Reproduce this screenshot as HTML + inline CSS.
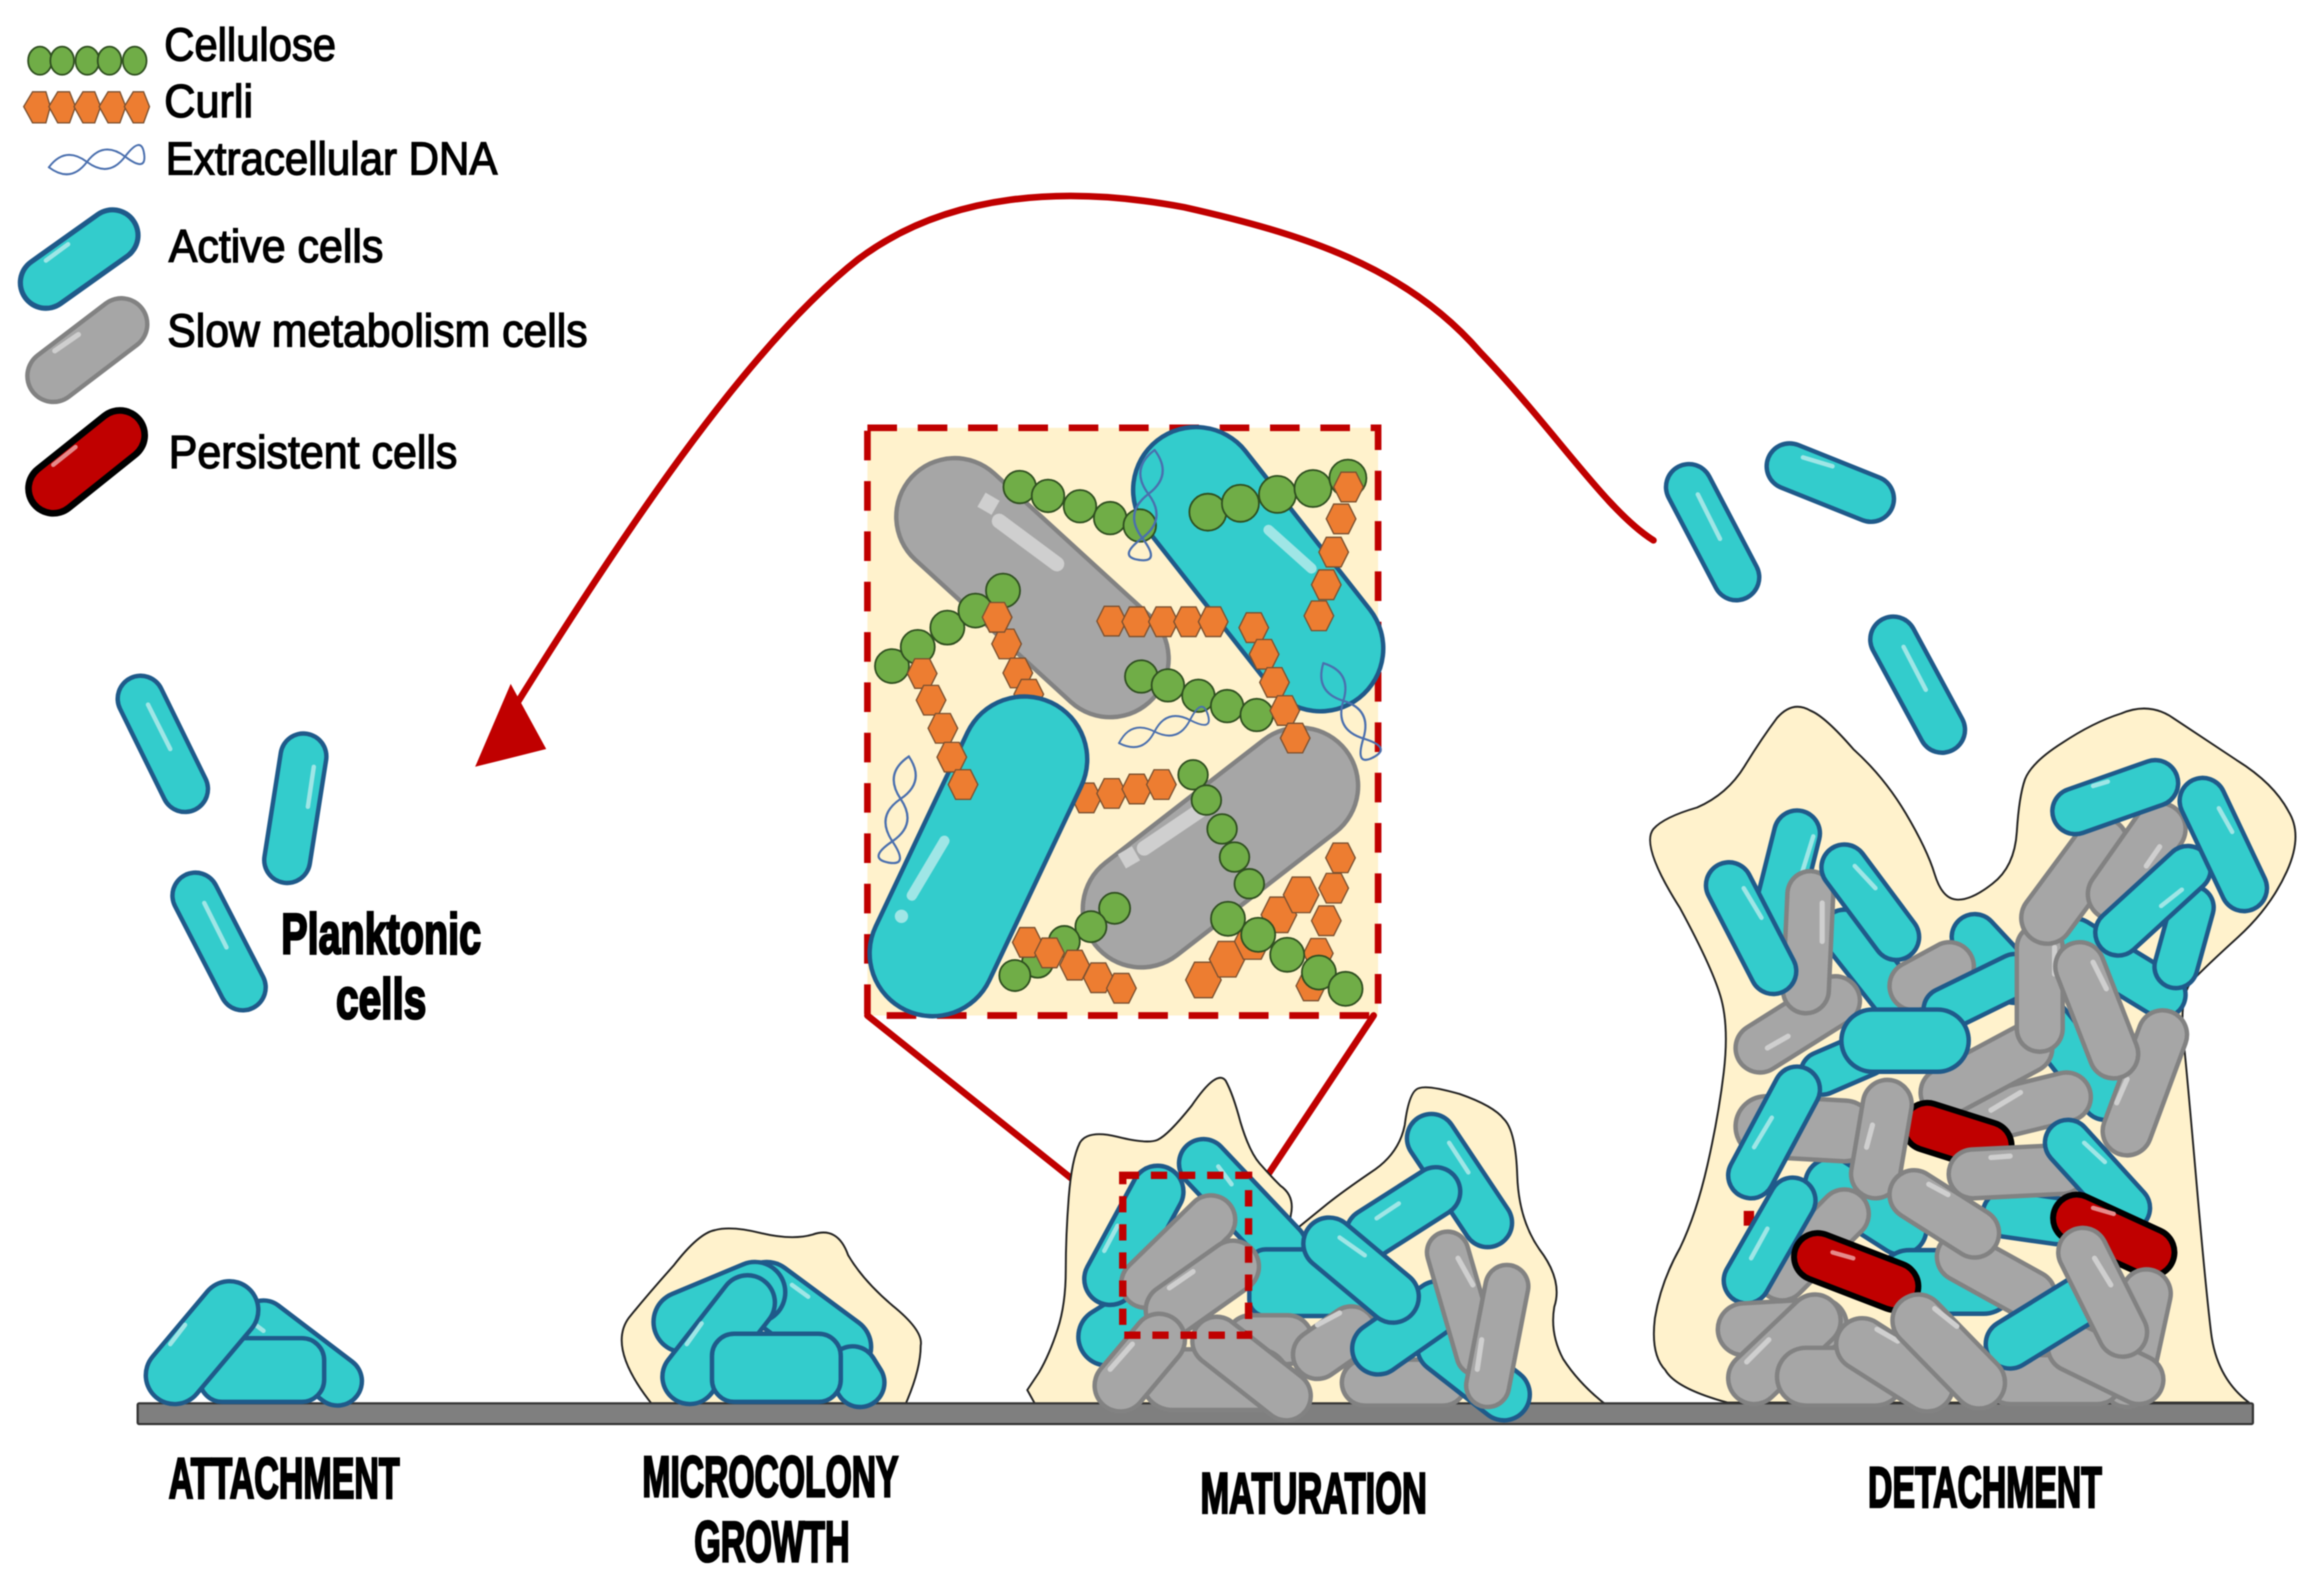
<!DOCTYPE html>
<html><head><meta charset="utf-8"><title>Biofilm formation stages</title>
<style>
html,body{margin:0;padding:0;background:#fff}
svg{display:block;filter:blur(.6px)}
path{fill:none;stroke-linecap:round}
.to{stroke:#1f5a8a}.tf{stroke:#33cccc}
.go{stroke:#828282}.gf{stroke:#a6a6a6}
.ro{stroke:#000}.rf{stroke:#c00000}
.h{stroke:#9fe6e6;stroke-width:3}
.gh{stroke:#cfcfcf;stroke-width:3.500}
.rh{stroke:#e58a8a;stroke-width:3}
.tr{fill:#33cccc;stroke:#1f5a8a;stroke-width:3}
.blob{fill:#fff2cc;stroke:#222;stroke-width:1.3;stroke-linejoin:round}
.c{fill:#70ad47;stroke:#2f4f20;stroke-width:1.2}
.x{fill:#ed7d31;stroke:#7a5030;stroke-width:.9}
.dna{stroke:#4a6fae;stroke-width:2}
.leg{font:31px "Liberation Sans",sans-serif;fill:#000;stroke:#000;stroke-width:.9}
.lab{font:bold 39px "Liberation Sans",sans-serif;fill:#000;stroke:#000;stroke-width:1.6}
</style></head><body>
<svg xmlns="http://www.w3.org/2000/svg" width="2321" height="1578" viewBox="0 0 1568 1066" preserveAspectRatio="none">
<defs>
<polygon id="hx" class="x" points="-10,0 -5,-10 5,-10 10,0 5,10 -5,10"/>
<polygon id="hy" class="x" points="-12,0 -6,-12 6,-12 12,0 6,12 -6,12"/>
<g id="dna"><path class="dna" d="M0 0Q20 -20 40 0T80 0T100 0"/><path class="dna" d="M0 0Q20 20 40 0T80 0T100 0"/></g>
</defs>
<rect width="1568" height="1066" fill="#fff"/>

<!-- legend -->
<g class="c"><ellipse cx="27" cy="41" rx="8" ry="9.500"/><ellipse cx="42" cy="41" rx="8" ry="9.500"/><ellipse cx="59" cy="41" rx="8" ry="9.500"/><ellipse cx="74" cy="41" rx="8" ry="9.500"/><ellipse cx="91" cy="41" rx="8" ry="9.500"/></g>
<g class="x"><polygon points="16,72 22,62 31,62 34,72 31,83 22,83"/><polygon points="33,72 39,62 47,62 51,72 47,83 39,83"/><polygon points="50,72 56,62 64,62 68,72 64,83 56,83"/><polygon points="67,72 73,62 81,62 85,72 81,83 73,83"/><polygon points="84,72 90,62 97,62 101,72 97,83 90,83"/></g>
<use href="#dna" transform="translate(33 113) rotate(-8) scale(.65)"/>
<path class="to" stroke-width="38" d="M31 191 76 159"/><path class="tf" stroke-width="31" d="M31 191 76 159"/>
<path class="h" d="M31 176 46 165"/>
<path class="go" stroke-width="38" d="M36 254 82 219"/><path class="gf" stroke-width="32" d="M36 254 82 219"/>
<path class="gh" d="M37 237 53 226"/>
<path class="ro" stroke-width="38" d="M36 330 81 294"/><path class="rf" stroke-width="29" d="M36 330 81 294"/>
<path class="rh" d="M36 314 51 302"/>
<text class="leg" x="111" y="41" textLength="116" lengthAdjust="spacingAndGlyphs">Cellulose</text>
<text class="leg" x="111" y="79" textLength="60" lengthAdjust="spacingAndGlyphs">Curli</text>
<text class="leg" x="112" y="118" textLength="224" lengthAdjust="spacingAndGlyphs">Extracellular DNA</text>
<text class="leg" x="114" y="177" textLength="145" lengthAdjust="spacingAndGlyphs">Active cells</text>
<text class="leg" x="113" y="234" textLength="284" lengthAdjust="spacingAndGlyphs">Slow metabolism cells</text>
<text class="leg" x="114" y="316" textLength="195" lengthAdjust="spacingAndGlyphs">Persistent cells</text>

<!-- return arrow -->
<path d="M1117 365C1085 345 1050 290 1000 238C950 180 880 158 800 140C720 125 640 130 580 175C510 230 430 345 345 482" stroke="#c00000" stroke-width="4.500"/>
<polygon points="321,518 345,462 369,506" fill="#c00000"/>

<!-- planktonic -->
<path class="to" stroke-width="34" d="M95 472 125 533"/><path class="tf" stroke-width="28" d="M95 472 125 533"/><path class="h" d="M100 476 115 506"/>
<path class="to" stroke-width="34" d="M205 511 194 581"/><path class="tf" stroke-width="28" d="M205 511 194 581"/><path class="h" d="M212 518 208 545"/>
<path class="to" stroke-width="34" d="M132 605 164 667"/><path class="tf" stroke-width="28" d="M132 605 164 667"/><path class="h" d="M138 610 153 640"/>
<text class="lab" x="190" y="644" textLength="135" lengthAdjust="spacingAndGlyphs">Planktonic</text>
<text class="lab" x="227" y="688" textLength="61" lengthAdjust="spacingAndGlyphs">cells</text>

<!-- detached -->
<path class="to" stroke-width="34" d="M1141 329 1173 390"/><path class="tf" stroke-width="28" d="M1141 329 1173 390"/><path class="h" d="M1147 334 1162 364"/>
<path class="to" stroke-width="34" d="M1209 315 1264 337"/><path class="tf" stroke-width="28" d="M1209 315 1264 337"/><path class="h" d="M1218 309 1238 315"/>
<path class="to" stroke-width="34" d="M1279 432 1312 493"/><path class="tf" stroke-width="28" d="M1279 432 1312 493"/><path class="h" d="M1286 437 1301 466"/>

<!-- inset -->
<rect x="586" y="289" width="345" height="397" fill="#fff2cc"/>
<rect x="586" y="289" width="345" height="397" fill="none" stroke="#c00000" stroke-width="4.500" stroke-dasharray="20 14"/>
<path d="M586 686 755 821M928 686 849 805" stroke="#c00000" stroke-width="4.500"/>
<path class="go" stroke-width="82" d="M645 349 750 445"/><path class="gf" stroke-width="76" d="M645 349 750 445"/>
<path d="M675 352 714 381" stroke="#cfcfcf" stroke-width="10" stroke-linecap="butt"/>
<rect x="662" y="335" width="11" height="11" fill="#cfcfcf" transform="rotate(30 668 341)"/>
<path class="go" stroke-width="82" d="M878 531 771 614"/><path class="gf" stroke-width="76" d="M878 531 771 614"/>
<path d="M773 573 810 548" stroke="#cfcfcf" stroke-width="10" stroke-linecap="butt"/>
<rect x="757" y="574" width="11" height="11" fill="#cfcfcf" transform="rotate(-30 762 579)"/>
<path class="to" stroke-width="88" d="M808 331 892 438"/><path class="tf" stroke-width="82" d="M808 331 892 438"/>
<path class="h" style="stroke-width:7" d="M857 358 886 384"/>
<use href="#hx" x="673.600" y="417"/><use href="#hx" x="680" y="435"/><use href="#hx" x="687.600" y="454.600"/><use href="#hx" x="695" y="469"/>
<use href="#hx" x="734" y="539"/><use href="#hx" x="751" y="536"/><use href="#hx" x="768" y="533"/><use href="#hx" x="784.600" y="530"/>
<path class="to" stroke-width="88" d="M692 513 630 644"/><path class="tf" stroke-width="82" d="M692 513 630 644"/>
<path class="h" style="stroke-width:7" d="M616 605 638 568"/><circle cx="609" cy="619" r="4.500" fill="#9fe6e6"/>
<g class="c">
<circle cx="688.900" cy="329" r="11"/><circle cx="708" cy="335" r="11"/><circle cx="729.600" cy="342" r="11"/><circle cx="750" cy="350" r="11"/><circle cx="770" cy="355" r="11"/>
<circle cx="816" cy="346" r="12.500"/><circle cx="838" cy="340" r="12.500"/><circle cx="863" cy="334" r="12.500"/><circle cx="887" cy="330" r="12.500"/><circle cx="910.600" cy="323" r="12.500"/>
<circle cx="602.600" cy="450" r="11.500"/><circle cx="620" cy="437" r="11.500"/><circle cx="640" cy="424" r="11.500"/><circle cx="659" cy="412.500" r="11.500"/><circle cx="677.600" cy="399" r="11.500"/>
<circle cx="771" cy="457" r="11"/><circle cx="789" cy="463" r="11"/><circle cx="809.600" cy="470" r="11"/><circle cx="829" cy="477" r="11"/><circle cx="849" cy="483" r="11"/>
</g>
<use href="#hx" x="911" y="329"/><use href="#hx" x="906" y="350.500"/><use href="#hx" x="901" y="373"/><use href="#hx" x="896" y="395"/><use href="#hx" x="891" y="416"/>
<use href="#hx" x="623" y="455"/><use href="#hx" x="629" y="473"/><use href="#hx" x="637" y="492"/><use href="#hx" x="643" y="511.500"/><use href="#hx" x="650.600" y="530"/>
<use href="#hx" x="673.600" y="417"/>
<use href="#hx" x="751" y="419.600"/><use href="#hx" x="768" y="420"/><use href="#hx" x="786" y="420"/><use href="#hx" x="803" y="420"/><use href="#hx" x="819.600" y="420"/>
<use href="#hx" x="847" y="424"/><use href="#hx" x="854" y="442"/><use href="#hx" x="861" y="461"/><use href="#hx" x="868" y="480"/><use href="#hx" x="875" y="498.600"/>
<g class="c"><circle cx="806" cy="523.400" r="10"/><circle cx="815" cy="540.500" r="10"/><circle cx="825.600" cy="560" r="10"/><circle cx="834" cy="579" r="10"/><circle cx="844" cy="597" r="10"/>
<circle cx="753" cy="613.600" r="10.500"/><circle cx="737" cy="626" r="10.500"/><circle cx="719" cy="636" r="10.500"/><circle cx="701" cy="650" r="10.500"/><circle cx="685.600" cy="659" r="10.500"/></g>
<use href="#hx" x="694" y="636.600"/><use href="#hx" x="709" y="643.700"/><use href="#hx" x="726" y="652"/><use href="#hx" x="742" y="660.500"/><use href="#hx" x="757.600" y="667.600"/>
<use href="#hx" x="905.600" y="579.500"/><use href="#hx" x="901" y="600"/><use href="#hx" x="896" y="622"/><use href="#hx" x="890.600" y="644"/><use href="#hx" x="885.600" y="666"/>
<use href="#hy" x="813" y="662"/><use href="#hy" x="829" y="648"/><use href="#hy" x="846" y="636"/><use href="#hy" x="864" y="618"/><use href="#hy" x="879" y="604.500"/>
<g class="c"><circle cx="829.600" cy="620.700" r="11.500"/><circle cx="850" cy="631.500" r="11.500"/><circle cx="869.600" cy="645" r="11.500"/><circle cx="891" cy="657" r="11.500"/><circle cx="909" cy="668" r="11.500"/></g>
<use href="#dna" transform="translate(756 502) rotate(-18) scale(.63)"/>
<use href="#dna" transform="translate(780 304) rotate(98) scale(.75)"/>
<use href="#dna" transform="translate(614 511) rotate(101) scale(.73)"/>
<use href="#dna" transform="translate(894 448) rotate(62) scale(.72)"/>

<!-- blobs -->
<path class="blob" d="M440 948Q410 910 425 890Q438 874 455 855Q472 833 483 831Q494 828 514 833Q535 838 549 834Q566 828 573 848Q583 865 603 882Q624 899 622 909Q622 925 612 948Z"/>
<path class="blob" d="M699 948L694 939 702 927Q709 915 714.500 898Q720 881 720 858Q720 835 722 809Q724 783 729.500 772Q735 763 755 768Q775 773 782 770Q789 767 805 747Q822 722 828 730Q833 739 838 758Q844 778 851 786Q858 794 865 801Q875 808 872 821L870 835 897 813Q907 805 926 792Q945 780 949 760Q952 736 959 735Q965 733 986 739Q1009 747 1016 756Q1024 764 1025 794Q1026 824 1040 844Q1056 865 1050 883Q1047 901 1056 918Q1067 935 1085 949Z"/>
<path class="blob" d="M1167 947.500Q1132 938 1125 925.500Q1115 915 1118 890.500Q1122 866 1135 843Q1146 820 1153.500 787Q1161 754 1164.500 724.500Q1168 695 1163 675.500Q1158 656 1135 613.500Q1108 571 1117 560Q1124 552 1146.500 545.500Q1167 536.500 1178.500 517.700Q1190 499 1200.500 485Q1211 473 1223 480Q1233 484 1252 506Q1273 525 1287.500 549.500Q1302 574 1307 590.500Q1312 607 1321.700 607.700Q1331.400 608.500 1346 597Q1361 585.600 1362.500 562Q1364 538 1368 526.500Q1372.500 515 1393 502Q1414 488 1433 482Q1452 474 1468 485Q1484 495.500 1511 513.500Q1536 529 1546 548Q1556 564 1545 588.500Q1534 613 1512 633Q1490 653 1481 662.500Q1472.400 672 1475 701Q1478 731 1484 800Q1490 869 1493.700 900Q1497.400 931 1519.400 947.500Z"/>

<!-- surface -->
<rect x="93" y="948" width="1429" height="14" rx="1" fill="#7f7f7f" stroke="#333" stroke-width="1.500"/>

<!-- attachment -->
<path class="to" stroke-width="36" d="M178 895 228 933"/><path class="tf" stroke-width="30" d="M178 895 228 933"/>
<rect class="tr" x="135" y="904" width="84" height="43" rx="15"/>
<path class="h" d="M170 893 178 899"/>
<path class="to" stroke-width="42" d="M155 885 118 929"/><path class="tf" stroke-width="36" d="M155 885 118 929"/>
<path class="h" d="M115 908 125 895"/>

<!-- microcolony -->
<path class="to" stroke-width="44" d="M518 873 568 910"/><path class="tf" stroke-width="38" d="M518 873 568 910"/>
<path class="to" stroke-width="44" d="M462 893 510 873"/><path class="tf" stroke-width="38" d="M462 893 510 873"/>
<path class="to" stroke-width="36" d="M576 926 581 934"/><path class="tf" stroke-width="30" d="M576 926 581 934"/>
<path class="h" d="M535 868 546 876"/>
<path class="to" stroke-width="40" d="M505 880 466 930"/><path class="tf" stroke-width="34" d="M505 880 466 930"/>
<path class="h" d="M464 908 474 894"/>
<rect class="tr" x="481" y="901" width="87" height="46" rx="15"/>

<!-- maturation -->
<path class="to" stroke-width="36" d="M813 786 866 842"/><path class="tf" stroke-width="30" d="M813 786 866 842"/>
<rect class="tr" x="844" y="844" width="85" height="45" rx="11"/>
<path class="to" stroke-width="42" d="M748 903 772 888"/><path class="tf" stroke-width="36" d="M748 903 772 888"/>
<path class="to" stroke-width="38" d="M782 805 750 864"/><path class="tf" stroke-width="32" d="M782 805 750 864"/>
<path class="h" d="M746 845 755 828"/>
<path class="h" d="M823 788 832 800"/>
<path class="go" stroke-width="36" d="M818 824 774 867"/><path class="gf" stroke-width="30" d="M818 824 774 867"/>
<path class="go" stroke-width="38" d="M833 855.600 791.500 885"/><path class="gf" stroke-width="32" d="M833 855.600 791.500 885"/>
<path class="gh" d="M790 870 806 859"/>
<path class="go" stroke-width="36" d="M845 905 870 905"/><path class="gf" stroke-width="30" d="M845 905 870 905"/>
<path class="go" stroke-width="36" d="M890 915 913 899"/><path class="gf" stroke-width="30" d="M890 915 913 899"/>
<path class="gh" d="M890 895 905 887"/>
<path class="go" stroke-width="44" d="M792 932 850 932"/><path class="gf" stroke-width="38" d="M792 932 850 932"/>
<path class="go" stroke-width="38" d="M783 905 757 936"/><path class="gf" stroke-width="32" d="M783 905 757 936"/>
<path class="gh" d="M750 925 765 908"/>
<path class="go" stroke-width="36" d="M822 906 869 943"/><path class="gf" stroke-width="30" d="M822 906 869 943"/>
<path class="go" stroke-width="34" d="M922 934 975 934"/><path class="gf" stroke-width="28" d="M922 934 975 934"/>
<path class="to" stroke-width="38" d="M975 910 1016 942"/><path class="tf" stroke-width="32" d="M975 910 1016 942"/>
<path class="to" stroke-width="36" d="M967 769 1005 826"/><path class="tf" stroke-width="30" d="M967 769 1005 826"/>
<path class="h" d="M979 772 992 792"/>
<path class="to" stroke-width="36" d="M970 805 926 833"/><path class="tf" stroke-width="30" d="M970 805 926 833"/>
<path class="h" d="M930 823 945 813"/>
<path class="to" stroke-width="38" d="M931 911 971 883"/><path class="tf" stroke-width="32" d="M931 911 971 883"/>
<path class="to" stroke-width="38" d="M898 840 941 876"/><path class="tf" stroke-width="32" d="M898 840 941 876"/>
<path class="h" d="M905 836 922 848"/>
<path class="go" stroke-width="31" d="M978 846 998 915"/><path class="gf" stroke-width="25" d="M978 846 998 915"/>
<path class="gh" d="M985 850 995 868"/>
<path class="go" stroke-width="32" d="M1018 869 1005 936"/><path class="gf" stroke-width="26" d="M1018 869 1005 936"/>
<path class="gh" d="M1001 905 998 925"/>
<rect x="758.500" y="794" width="85" height="108" fill="none" stroke="#c00000" stroke-width="5" stroke-dasharray="11 8"/>

<!-- detachment -->
<rect x="1178" y="818" width="7" height="10" fill="#c00000"/>
<path class="to" stroke-width="34" d="M1246 630 1287 682"/><path class="tf" stroke-width="28" d="M1246 630 1287 682"/>
<path class="to" stroke-width="38" d="M1237 800 1284 830"/><path class="tf" stroke-width="32" d="M1237 800 1284 830"/>
<path class="to" stroke-width="46" d="M1290 866 1340 866"/><path class="tf" stroke-width="40" d="M1290 866 1340 866"/>
<path class="to" stroke-width="34" d="M1355 820 1390 825"/><path class="tf" stroke-width="28" d="M1355 820 1390 825"/>
<path class="to" stroke-width="34" d="M1381 689 1422 741"/><path class="tf" stroke-width="28" d="M1381 689 1422 741"/>
<path class="to" stroke-width="34" d="M1334 633 1361 662"/><path class="tf" stroke-width="28" d="M1334 633 1361 662"/>
<path class="to" stroke-width="34" d="M1402 636 1461 672"/><path class="tf" stroke-width="28" d="M1402 636 1461 672"/>
<path class="to" stroke-width="32" d="M1231 725 1261 712"/><path class="tf" stroke-width="26" d="M1231 725 1261 712"/>
<path class="go" stroke-width="36" d="M1293 666 1317 653"/><path class="gf" stroke-width="30" d="M1293 666 1317 653"/>
<path class="to" stroke-width="32" d="M1314 682 1361 659"/><path class="tf" stroke-width="26" d="M1314 682 1361 659"/>
<path class="go" stroke-width="36" d="M1343 754 1396 741"/><path class="gf" stroke-width="30" d="M1343 754 1396 741"/>
<path class="gh" d="M1345 750 1365 738"/>
<path class="go" stroke-width="36" d="M1314 738 1370 708"/><path class="gf" stroke-width="30" d="M1314 738 1370 708"/>
<path class="go" stroke-width="36" d="M1437 764 1461 699"/><path class="gf" stroke-width="30" d="M1437 764 1461 699"/>
<path class="gh" d="M1430 745 1437 729"/>
<path class="ro" stroke-width="36" d="M1302 761 1343 774"/><path class="rf" stroke-width="28" d="M1302 761 1343 774"/>
<path class="go" stroke-width="44" d="M1193 761 1246 764"/><path class="gf" stroke-width="38" d="M1193 761 1246 764"/>
<path class="go" stroke-width="36" d="M1189 708 1240 676"/><path class="gf" stroke-width="30" d="M1189 708 1240 676"/>
<path class="gh" d="M1194 708 1208 700"/>
<path class="to" stroke-width="34" d="M1214 563 1199 623"/><path class="tf" stroke-width="28" d="M1214 563 1199 623"/>
<path class="h" d="M1225 565 1216 594"/>
<path class="go" stroke-width="34" d="M1220 669 1223 604"/><path class="gf" stroke-width="28" d="M1220 669 1223 604"/>
<path class="gh" d="M1231 610 1231 636"/>
<path class="to" stroke-width="34" d="M1246 586 1281 633"/><path class="tf" stroke-width="28" d="M1246 586 1281 633"/>
<path class="h" d="M1253 585 1267 600"/>
<path class="to" stroke-width="34" d="M1168 598 1198 656"/><path class="tf" stroke-width="28" d="M1168 598 1198 656"/>
<path class="h" d="M1178 600 1190 620"/>
<path class="to" stroke-width="45" d="M1265 703 1309 703"/><path class="tf" stroke-width="39" d="M1265 703 1309 703"/>
<path class="go" stroke-width="34" d="M1378 640 1378 695"/><path class="gf" stroke-width="28" d="M1378 640 1378 695"/>
<path class="gh" d="M1388 640 1388 658"/>
<path class="go" stroke-width="36" d="M1405 653 1428 712"/><path class="gf" stroke-width="30" d="M1405 653 1428 712"/>
<path class="gh" d="M1414 650 1423 668"/>
<path class="go" stroke-width="38" d="M1383 620 1420 570"/><path class="gf" stroke-width="32" d="M1383 620 1420 570"/>
<path class="go" stroke-width="38" d="M1428 604 1459 560"/><path class="gf" stroke-width="32" d="M1428 604 1459 560"/>
<path class="gh" d="M1450 585 1459 572"/>
<path class="to" stroke-width="32" d="M1470 653 1481 613"/><path class="tf" stroke-width="26" d="M1470 653 1481 613"/>
<path class="to" stroke-width="34" d="M1431 630 1478 587"/><path class="tf" stroke-width="28" d="M1431 630 1478 587"/>
<path class="h" d="M1460 612 1474 601"/>
<path class="to" stroke-width="34" d="M1402 548 1456 529"/><path class="tf" stroke-width="28" d="M1402 548 1456 529"/>
<path class="h" d="M1414 531 1424 528"/>
<path class="to" stroke-width="34" d="M1488 541 1516 600"/><path class="tf" stroke-width="28" d="M1488 541 1516 600"/>
<path class="h" d="M1499 546 1508 562"/>
<path class="go" stroke-width="36" d="M1325 849 1372 875"/><path class="gf" stroke-width="30" d="M1325 849 1372 875"/>
<path class="go" stroke-width="36" d="M1246 820 1204 862"/><path class="gf" stroke-width="30" d="M1246 820 1204 862"/>
<path class="to" stroke-width="34" d="M1214 736 1183 794"/><path class="tf" stroke-width="28" d="M1214 736 1183 794"/>
<path class="h" d="M1185 775 1197 755"/>
<path class="to" stroke-width="34" d="M1211 811 1180 865"/><path class="tf" stroke-width="28" d="M1211 811 1180 865"/>
<path class="h" d="M1183 850 1194 830"/>
<path class="go" stroke-width="36" d="M1275 746 1267 793"/><path class="gf" stroke-width="30" d="M1275 746 1267 793"/>
<path class="gh" d="M1265 760 1261 775"/>
<path class="go" stroke-width="36" d="M1293 807 1334 833"/><path class="gf" stroke-width="30" d="M1293 807 1334 833"/>
<path class="gh" d="M1303 800 1316 807"/>
<path class="go" stroke-width="36" d="M1333 793 1393 790"/><path class="gf" stroke-width="30" d="M1333 793 1393 790"/>
<path class="gh" d="M1345 782 1358 781"/>
<path class="to" stroke-width="34" d="M1397 772 1437 816"/><path class="tf" stroke-width="28" d="M1397 772 1437 816"/>
<path class="h" d="M1408 772 1422 785"/>
<path class="ro" stroke-width="36" d="M1403 823 1453 846"/><path class="rf" stroke-width="28" d="M1403 823 1453 846"/>
<path class="rh" d="M1414 816 1428 820"/>
<path class="go" stroke-width="36" d="M1450 874 1437 934"/><path class="gf" stroke-width="30" d="M1450 874 1437 934"/>
<path class="go" stroke-width="36" d="M1358 932 1417 932"/><path class="gf" stroke-width="30" d="M1358 932 1417 932"/>
<path class="go" stroke-width="36" d="M1400 910 1445 932"/><path class="gf" stroke-width="30" d="M1400 910 1445 932"/>
<path class="to" stroke-width="36" d="M1358 908 1405 879"/><path class="tf" stroke-width="30" d="M1358 908 1405 879"/>
<path class="go" stroke-width="36" d="M1407 846 1434 900"/><path class="gf" stroke-width="30" d="M1407 846 1434 900"/>
<path class="gh" d="M1415 850 1426 868"/>
<path class="ro" stroke-width="36" d="M1228 849 1280 869"/><path class="rf" stroke-width="28" d="M1228 849 1280 869"/>
<path class="rh" d="M1238 846 1252 850"/>
<path class="go" stroke-width="38" d="M1178 898 1230 895"/><path class="gf" stroke-width="32" d="M1178 898 1230 895"/>
<path class="go" stroke-width="38" d="M1185 931 1226 892"/><path class="gf" stroke-width="32" d="M1185 931 1226 892"/>
<path class="gh" d="M1180 920 1195 905"/>
<path class="go" stroke-width="42" d="M1220 930 1267 930"/><path class="gf" stroke-width="36" d="M1220 930 1267 930"/>
<path class="go" stroke-width="38" d="M1258 908 1302 936"/><path class="gf" stroke-width="32" d="M1258 908 1302 936"/>
<path class="gh" d="M1268 898 1282 906"/>
<path class="go" stroke-width="38" d="M1296 892 1337 934"/><path class="gf" stroke-width="32" d="M1296 892 1337 934"/>
<path class="gh" d="M1307 884 1322 896"/>

<!-- stage labels -->
<text class="lab" x="114" y="1012" textLength="156" lengthAdjust="spacingAndGlyphs">ATTACHMENT</text>
<text class="lab" x="434" y="1011" textLength="173" lengthAdjust="spacingAndGlyphs">MICROCOLONY</text>
<text class="lab" x="469" y="1055" textLength="105" lengthAdjust="spacingAndGlyphs">GROWTH</text>
<text class="lab" x="811" y="1022" textLength="153" lengthAdjust="spacingAndGlyphs">MATURATION</text>
<text class="lab" x="1262" y="1018" textLength="158" lengthAdjust="spacingAndGlyphs">DETACHMENT</text>
</svg>
</body></html>
